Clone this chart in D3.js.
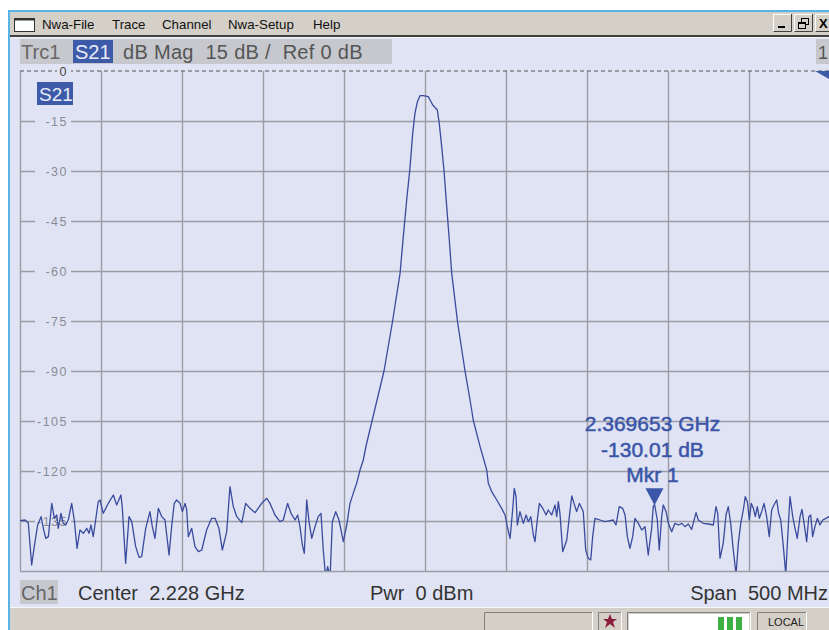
<!DOCTYPE html>
<html><head><meta charset="utf-8">
<script src="https://cdn.jsdelivr.net/npm/d3@7"></script>
<style>
body{margin:0;background:#fff}
svg{display:block}
text{font-family:"Liberation Sans",Arial,sans-serif}
</style>
</head><body>
<svg id="c" width="829" height="630"></svg>
<script>
// ---------------- data ----------------
const freqMHz = [1978.0,1981.1,1983.1,1985.2,1986.8,1988.9,1991.0,1992.4,1993.9,1995.5,1997.6,1999.2,2000.7,2001.6,2003.3,2004.7,2006.2,2007.8,2009.9,2011.5,2013.2,2015.0,2017.1,2019.2,2020.6,2021.8,2023.2,2024.7,2026.3,2027.4,2029.4,2032.5,2035.6,2037.7,2040.3,2041.1,2043.2,2045.3,2047.0,2049.4,2051.5,2053.1,2055.6,2058.2,2059.7,2061.3,2063.4,2065.5,2067.5,2070.0,2071.6,2073.2,2074.7,2076.8,2078.2,2079.9,2080.9,2081.9,2084.0,2086.0,2088.1,2090.2,2093.2,2096.3,2098.4,2100.8,2102.9,2105.6,2107.6,2109.7,2111.8,2114.9,2117.3,2120.0,2123.1,2127.2,2130.3,2132.3,2135.4,2138.5,2140.5,2143.2,2145.3,2147.8,2149.4,2150.8,2152.3,2153.5,2155.0,2156.4,2158.1,2160.1,2162.1,2163.8,2165.2,2166.7,2167.9,2169.4,2170.8,2172.9,2174.9,2177.6,2179.7,2181.7,2183.7,2185.8,2187.9,2189.9,2191.6,2195.3,2198.4,2202.7,2207.9,2212.6,2214.6,2216.7,2218.7,2220.4,2221.8,2223.3,2224.9,2227.0,2230.0,2232.8,2235.6,2236.8,2238.3,2239.7,2241.4,2243.0,2244.5,2248.1,2252.7,2255.8,2257.9,2262.0,2266.1,2267.1,2269.2,2272.3,2275.3,2277.4,2278.8,2280.5,2282.1,2283.1,2284.2,2285.0,2286.6,2288.7,2290.4,2291.8,2293.3,2294.9,2295.9,2297.3,2298.6,2300.7,2302.7,2304.1,2306.2,2308.3,2309.3,2310.3,2311.3,2313.0,2315.5,2317.1,2318.6,2320.0,2321.6,2323.3,2325.7,2327.2,2328.8,2330.3,2331.5,2332.9,2336.0,2339.1,2342.2,2344.2,2345.9,2347.9,2350.0,2351.5,2352.9,2354.5,2356.2,2357.6,2359.7,2361.8,2363.8,2365.8,2367.9,2368.9,2369.7,2371.4,2372.6,2374.1,2375.1,2376.8,2378.2,2380.3,2382.3,2384.4,2386.5,2388.5,2390.5,2392.6,2395.3,2396.7,2399.8,2402.9,2406.0,2407.6,2408.7,2410.1,2412.1,2413.8,2415.2,2416.7,2418.3,2420.0,2421.4,2422.9,2424.5,2425.7,2427.0,2428.2,2429.4,2430.7,2431.9,2433.1,2434.4,2435.8,2437.3,2438.9,2440.5,2442.0,2443.4,2445.1,2446.3,2447.6,2449.2,2450.7,2451.9,2453.3,2455.0,2456.4,2457.8,2459.5,2460.7,2462.0,2463.6,2464.9,2466.1,2467.3,2468.7,2470.2,2471.8,2473.5,2475.5,2477.4,2478.0];
const s21dB = [-134.9,-134.7,-135.5,-148.2,-142.7,-136.2,-133.7,-137.2,-140.2,-139.7,-129.7,-134.2,-133.2,-137.2,-132.7,-135.7,-136.2,-134.7,-129.7,-134.7,-143.2,-137.7,-138.7,-137.2,-138.7,-136.2,-139.7,-134.7,-129.2,-128.7,-132.7,-129.7,-127.2,-130.2,-127.2,-130.7,-147.7,-133.7,-135.2,-142.7,-145.9,-145.7,-137.2,-132.2,-136.7,-140.2,-131.2,-133.7,-134.7,-145.2,-136.7,-129.7,-128.7,-129.7,-132.2,-129.7,-131.7,-139.7,-137.2,-142.7,-144.2,-143.7,-137.7,-134.2,-134.2,-137.2,-143.7,-138.2,-124.7,-130.7,-133.7,-135.5,-129.7,-131.2,-132.5,-129.7,-128.2,-129.7,-133.2,-135.2,-134.7,-129.7,-132.7,-134.7,-133.2,-136.7,-142.2,-144.7,-128.7,-135.2,-140.2,-136.7,-133.7,-132.7,-143.7,-152.0,-148.7,-152.0,-135.2,-132.2,-134.7,-141.2,-136.2,-129.7,-126.7,-123.7,-119.7,-116.7,-112.5,-105.0,-98.7,-90.0,-75.3,-60.7,-49.7,-38.7,-29.2,-18.7,-12.7,-9.2,-7.4,-7.4,-7.7,-10.2,-11.7,-15.7,-22.7,-29.7,-40.7,-50.7,-60.7,-75.3,-90.0,-98.7,-105.0,-112.7,-119.7,-123.7,-126.2,-128.7,-131.2,-133.2,-136.7,-140.2,-131.7,-125.2,-127.7,-136.2,-132.2,-135.7,-133.2,-135.2,-133.7,-139.2,-141.2,-134.7,-129.7,-131.2,-133.2,-131.7,-133.2,-130.2,-133.7,-129.2,-132.7,-144.2,-140.7,-133.7,-127.5,-129.7,-132.2,-129.7,-132.2,-143.7,-146.2,-146.7,-139.7,-134.2,-134.7,-135.2,-134.9,-134.7,-136.2,-130.7,-131.2,-133.2,-139.7,-143.2,-139.7,-134.2,-135.7,-137.7,-136.7,-145.2,-137.2,-130.7,-130.0,-134.7,-143.7,-133.7,-130.2,-132.2,-135.7,-138.2,-135.7,-136.2,-135.7,-136.7,-135.9,-137.5,-132.5,-134.7,-135.7,-135.9,-136.2,-130.7,-132.7,-146.2,-141.7,-133.2,-130.7,-135.7,-143.7,-151.0,-141.7,-135.7,-131.7,-127.7,-129.2,-134.7,-129.7,-131.2,-133.7,-130.7,-134.2,-132.2,-129.7,-133.7,-139.7,-131.7,-130.2,-128.7,-132.7,-134.7,-142.7,-151.0,-139.7,-127.7,-133.7,-137.2,-140.2,-133.7,-131.5,-135.7,-141.2,-133.7,-133.2,-139.7,-136.7,-134.2,-136.2,-134.7,-134.2,-133.7,-134.1];
const yTicks = [0,-15,-30,-45,-60,-75,-90,-105,-120,-135,-150];
const yLabels = ["0","-15","-30","-45","-60","-75","-90","-105","-120","-135"];
const xTicks = [1978,2028,2078,2128,2178,2228,2278,2328,2378,2428,2478];
const markerFreq = 2369.653;
const markerDB = -130.01;
const markerLines = ["2.369653 GHz","-130.01 dB","Mkr 1"];
const menuItems = ["Nwa-File","Trace","Channel","Nwa-Setup","Help"];
const traceHeader = ["Trc1","S21","dB Mag  15 dB /  Ref 0 dB"];
const footer = ["Ch1","Center  2.228 GHz","Pwr  0 dBm","Span  500 MHz"];

// ---------------- layout ----------------
const W = 829, H = 630;
const P = {l:20, r:830, t:71, b:571};
const C = {bg:"#dfe3f3", menu:"#d4d0c8", grid:"#9c9ca4", trace:"#3a4b9e", mk:"#3b55a8", hdr:"#c6c8ce", s21:"#3d5aa9"};
const menuX = [42,112,162,228,313];

const svg = d3.select("#c");
const x = d3.scaleLinear().domain([1978,2478]).range([P.l,P.r]);
const y = d3.scaleLinear().domain([0,-150]).range([P.t,P.b]);

// window frame
svg.append("rect").attr("width",W).attr("height",H).attr("fill","#fff");
svg.append("rect").attr("x",8).attr("y",10).attr("width",W-8).attr("height",H-10).attr("fill","#58b4e4");
svg.append("rect").attr("x",10).attr("y",12).attr("width",W-10).attr("height",H-12).attr("fill",C.bg);
// menu bar
svg.append("rect").attr("x",10).attr("y",12).attr("width",W-10).attr("height",24).attr("fill",C.menu);
svg.append("rect").attr("x",10).attr("y",35).attr("width",W-10).attr("height",2).attr("fill","#404040");
svg.append("rect").attr("x",10).attr("y",37).attr("width",W-10).attr("height",1).attr("fill","#f4f4f4");
svg.append("rect").attr("x",14.5).attr("y",18.5).attr("width",20).attr("height",13).attr("fill","#fff").attr("stroke","#333").attr("stroke-width",1);
svg.append("rect").attr("x",14.5).attr("y",18.5).attr("width",20).attr("height",2).attr("fill","#333");
svg.selectAll("text.menu").data(menuItems).join("text").attr("class","menu")
  .attr("x",(d,i)=>menuX[i]).attr("y",29).attr("font-size",13.3).attr("fill","#111").text(d=>d);
// window buttons
[[773,"_"],[794,"r"],[815,"X"]].forEach(([bx,g])=>{
  svg.append("rect").attr("x",bx).attr("y",14).attr("width",19).attr("height",18).attr("fill",C.menu);
  svg.append("path").attr("d",`M${bx+0.5},${32}V${14.5}H${bx+19}`).attr("stroke","#fff").attr("fill","none");
  svg.append("path").attr("d",`M${bx+0.5},${31.5}H${bx+18.5}V${14}`).attr("stroke","#404040").attr("fill","none");
  if(g==="_") svg.append("rect").attr("x",bx+5).attr("y",26).attr("width",7).attr("height",2).attr("fill","#000");
  else if(g==="r"){
    svg.append("rect").attr("x",bx+7.5).attr("y",18.5).attr("width",7).attr("height",6).attr("fill","none").attr("stroke","#000");
    svg.append("rect").attr("x",bx+4.5).attr("y",22.5).attr("width",7).attr("height",6).attr("fill",C.menu).attr("stroke","#000");
    svg.append("rect").attr("x",bx+4.5).attr("y",22.5).attr("width",7).attr("height",1.5).attr("fill","#000");
  } else svg.append("text").attr("x",bx+4).attr("y",28).attr("font-size",13).attr("font-weight","bold").text("X");
});

// trace header
svg.append("rect").attr("x",20).attr("y",39).attr("width",372).attr("height",25).attr("fill",C.hdr);
svg.append("rect").attr("x",816).attr("y",39).attr("width",13).attr("height",25).attr("fill",C.hdr);
svg.append("text").attr("x",818).attr("y",59).attr("font-size",18).attr("fill","#555").text("1");
svg.append("text").attr("x",21).attr("y",59).attr("font-size",20).attr("fill","#666").text(traceHeader[0]);
svg.append("rect").attr("x",73).attr("y",40).attr("width",40).attr("height",23).attr("fill",C.s21);
svg.append("text").attr("x",75).attr("y",59).attr("font-size",20).attr("fill","#e8ecf8").text(traceHeader[1]);
svg.append("text").attr("x",123).attr("y",59).attr("font-size",20).attr("letter-spacing",0.3).attr("fill","#555").style("white-space","pre").text(traceHeader[2]);

// grid
const gx = svg.append("g").attr("transform",`translate(0,${P.b})`)
  .call(d3.axisBottom(x).tickValues(xTicks).tickSize(-(P.b-P.t)).tickFormat(""));
gx.select(".domain").remove();
gx.selectAll("line").attr("stroke",C.grid).attr("stroke-width",1.4);
const gy = svg.append("g").attr("transform",`translate(${P.l},0)`)
  .call(d3.axisLeft(y).tickValues(yTicks.slice(1)).tickSize(-(P.r-P.l)).tickFormat(""));
gy.select(".domain").remove();
gy.selectAll("line").attr("stroke",C.grid).attr("stroke-width",1.4);
// reference (0 dB) dashed line
svg.append("line").attr("x1",P.l).attr("x2",P.r).attr("y1",y(0)).attr("y2",y(0))
  .attr("stroke","#555").attr("stroke-width",1.2).attr("stroke-dasharray","4,3");

// y labels with background gaps
const lab = svg.append("g");
yLabels.forEach((t,i)=>{
  const yy = y(yTicks[i]);
  lab.append("rect").attr("x",i===0?57:35).attr("y",yy-6).attr("width",i===0?14:36).attr("height",12).attr("fill",C.bg);
  lab.append("text").attr("x",68).attr("y",yy+4.5).attr("text-anchor","end").attr("font-size",12.5)
    .attr("letter-spacing",1.5).attr("fill",i===0?"#444":"#8a8c94").text(t);
});
// S21 badge
svg.append("rect").attr("x",37).attr("y",82).attr("width",36).attr("height",23).attr("fill",C.s21);
svg.append("text").attr("x",39).attr("y",101).attr("font-size",19).attr("fill","#e8ecf8").text("S21");

// trace
svg.append("clipPath").attr("id","clp").append("rect").attr("x",P.l).attr("y",P.t).attr("width",P.r-P.l).attr("height",P.b-P.t);
const pts = freqMHz.map((f,i)=>[f,s21dB[i]]);
svg.append("path").datum(pts).attr("clip-path","url(#clp)")
  .attr("d",d3.line().x(d=>x(d[0])).y(d=>y(d[1])))
  .attr("fill","none").attr("stroke",C.trace).attr("stroke-width",1.3).attr("stroke-linejoin","round");

// reference level triangle at right edge
svg.append("path").attr("d",`M815,${y(0)}L829,${y(0)}L829,${y(0)+8}Z`).attr("fill",C.s21);

// marker
const mx = x(markerFreq), my = y(markerDB);
svg.append("path").attr("d",`M${mx-9},${my-16}L${mx+9},${my-16}L${mx},${my+1}Z`).attr("fill",C.mk);
markerLines.forEach((t,i)=>{
  svg.append("text").attr("x",mx-2).attr("y",my-73+i*25.5).attr("text-anchor","middle")
    .attr("font-size",21).attr("fill",C.mk).attr("stroke",C.mk).attr("stroke-width",0.5).text(t);
});

// footer
svg.append("rect").attr("x",20).attr("y",580).attr("width",38).attr("height",24).attr("fill",C.hdr);
svg.append("text").attr("x",21).attr("y",600).attr("font-size",20).attr("fill","#666").text(footer[0]);
svg.append("text").attr("x",78).attr("y",600).attr("font-size",20).attr("fill","#333").style("white-space","pre").text(footer[1]);
svg.append("text").attr("x",370).attr("y",600).attr("font-size",20).attr("fill","#333").style("white-space","pre").text(footer[2]);
svg.append("text").attr("x",828).attr("y",600).attr("text-anchor","end").attr("font-size",20).attr("fill","#333").style("white-space","pre").text(footer[3]);

// status bar
svg.append("rect").attr("x",10).attr("y",607).attr("width",W-10).attr("height",23).attr("fill",C.menu);
svg.append("rect").attr("x",10).attr("y",607).attr("width",W-10).attr("height",1).attr("fill","#f8f8f8");
[[484,109],[598,24],[627,124],[757,50]].forEach(([bx,bw])=>{
  svg.append("path").attr("d",`M${bx+0.5},${630}V${612.5}H${bx+bw}`).attr("stroke","#808080").attr("fill","none");
  svg.append("path").attr("d",`M${bx+bw-0.5},${612}V${630}`).attr("stroke","#fff").attr("fill","none");
});
svg.append("rect").attr("x",629).attr("y",614).attr("width",120).attr("height",16).attr("fill","#fff");
[718,727,736].forEach(bx=>svg.append("rect").attr("x",bx).attr("y",617).attr("width",6).attr("height",13).attr("fill","#3cb043"));
svg.append("path").attr("d","M610,614L612,619L617,619L613,622L615,628L610,624L605,628L607,622L603,619L608,619Z").attr("fill","#8b1c3c");
svg.append("text").attr("x",768).attr("y",626).attr("font-size",11).attr("fill","#222").text("LOCAL");
</script>
</body></html>
